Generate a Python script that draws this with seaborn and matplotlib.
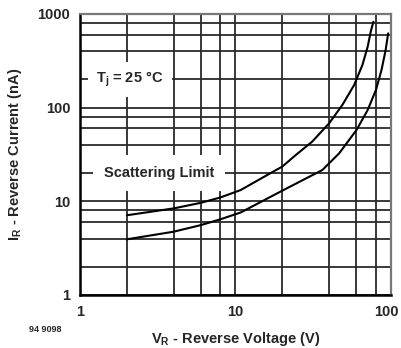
import seaborn as sns
import matplotlib.pyplot as plt
import matplotlib.transforms as mtransforms
import pandas as pd

# curve values (V in volts, I in nA)
upper_v = [2, 4, 6, 8, 10.8, 16.8, 20, 24.4, 31.1, 40, 48.7, 57.9, 65.5, 70.8, 74.5, 77.1]
upper_i = [7.1, 8.4, 9.65, 11.0, 13.2, 20, 23.5, 31.2, 43.3, 68, 107, 174, 285, 447, 673, 826]
lower_v = [2, 4, 6, 8, 10.8, 20, 36.2, 46.4, 60, 70.8, 80, 86.9, 92.4, 95.9]
lower_i = [3.93, 4.74, 5.58, 6.43, 7.6, 13.0, 21.6, 32.5, 57.7, 94.3, 154, 252, 412, 621]

x_major = [1, 10, 100]
x_minor = [2, 4, 6, 8, 20, 40, 60, 80]
y_major = [1, 10, 100, 1000]
y_minor = [2, 4, 6, 8, 20, 40, 60, 80, 200, 400, 600, 800]

df = pd.concat([
    pd.DataFrame({"V": upper_v, "I": upper_i, "curve": "upper"}),
    pd.DataFrame({"V": lower_v, "I": lower_i, "curve": "lower"}),
])

sns.set_style("white")
plt.rcParams['font.family'] = ['Liberation Sans', 'DejaVu Sans']
plt.rcParams['mathtext.fontset'] = 'custom'
plt.rcParams['mathtext.rm'] = 'Liberation Sans:bold'
plt.rcParams['mathtext.it'] = 'Liberation Sans:bold'

fig = plt.figure(figsize=(4.01, 3.48), dpi=100)
ax = fig.add_axes([0.1995, 0.1523, 0.7755, 0.8075])

for name, d in df.groupby("curve"):
    sns.lineplot(data=d, x="V", y="I", ax=ax, color="black", lw=1.5,
                 legend=False, zorder=4, sort=True)

ax.set_xscale("log")
ax.set_yscale("log")
ax.set_xlim(1, 100)
ax.set_ylim(1, 1000)
ax.set_xticks(x_major)
ax.set_xticklabels([str(v) for v in x_major])
ax.set_xticks(x_minor, minor=True)
ax.set_xticklabels([], minor=True)
ax.set_yticks(y_major)
ax.set_yticklabels([str(v) for v in y_major])
ax.set_yticks(y_minor, minor=True)
ax.set_yticklabels([], minor=True)
ax.tick_params(which="both", length=0, labelsize=10.5, pad=7)
for lab in ax.get_xticklabels() + ax.get_yticklabels():
    lab.set_fontweight("bold")
# keep the "100" label inside the canvas, as in the reference
last = ax.get_xticklabels()[-1]
last.set_horizontalalignment("right")
last.set_transform(last.get_transform() +
                   mtransforms.ScaledTranslation(8 / 100, 0, fig.dpi_scale_trans))

ax.grid(True, which="both", color="#2a2a2a", lw=1.3)
ax.set_axisbelow(True)

for s in ["left", "bottom"]:
    ax.spines[s].set_color("black")
    ax.spines[s].set_linewidth(1.8)
for s in ["top", "right"]:
    ax.spines[s].set_color("#777777")
    ax.spines[s].set_linewidth(1.6)

ax.set_xlabel(r"V$_\mathregular{R}$ - Reverse Voltage (V)", fontsize=10.5,
              fontweight="bold", labelpad=8)
ax.set_ylabel(r"I$_\mathregular{R}$ - Reverse Current (nA)", fontsize=10.5,
              fontweight="bold", labelpad=10)

ax.text(2.1, 200, r"T$_\mathregular{j}$ = 25 °C", fontsize=10.5, fontweight="bold",
        ha="center", va="center", zorder=3,
        bbox=dict(boxstyle="square,pad=0.55", fc="white", ec="none"))
ax.text(3.23, 20, "Scattering Limit", fontsize=10.5, fontweight="bold",
        ha="center", va="center", zorder=3,
        bbox=dict(boxstyle="square,pad=0.75", fc="white", ec="none"))

fig.text(0.112, 0.052, "94 9098", fontsize=6.5, fontweight="bold",
         ha="center", va="center")

fig.savefig("out.png", dpi=100)
